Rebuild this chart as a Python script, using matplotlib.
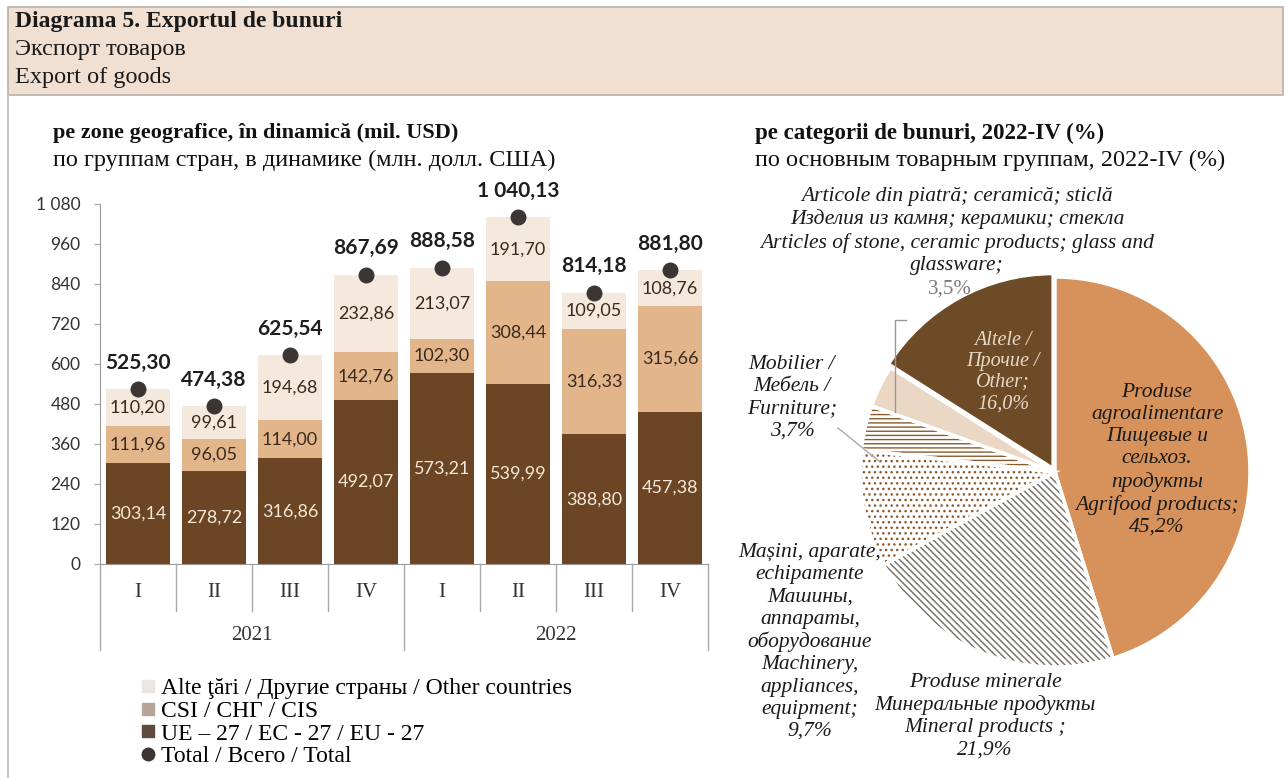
import matplotlib
matplotlib.use('Agg')
import matplotlib.pyplot as plt
import numpy as np
from matplotlib.patches import Rectangle
from matplotlib.lines import Line2D
from matplotlib.transforms import blended_transform_factory

plt.rcParams['font.family'] = ['Liberation Serif', 'DejaVu Serif']
plt.rcParams['hatch.linewidth'] = 1.0

# ---- data ----
quarters = ['I', 'II', 'III', 'IV', 'I', 'II', 'III', 'IV']
years = ['2021', '2022']
eu = [303.14, 278.72, 316.86, 492.07, 573.21, 539.99, 388.80, 457.38]
cis = [111.96, 96.05, 114.00, 142.76, 102.30, 308.44, 316.33, 315.66]
other = [110.20, 99.61, 194.68, 232.86, 213.07, 191.70, 109.05, 108.76]
total = [525.30, 474.38, 625.54, 867.69, 888.58, 1040.13, 814.18, 881.80]
yticks = [0, 120, 240, 360, 480, 600, 720, 840, 960, 1080]

pie_labels = ['Produse\nagroalimentare\nПищевые и\nсельхоз.\nпродукты\nAgrifood products;\n45,2%',
              'Produse minerale\nМинеральные продукты\nMineral products ;\n21,9%',
              'Mașini, aparate,\nechipamente\nМашины,\nаппараты,\nоборудование\nMachinery,\nappliances,\nequipment;\n9,7%',
              'Mobilier /\nМебель /\nFurniture;\n3,7%',
              'Articole din piatră; ceramică; sticlă\nИзделия из камня; керамики; стекла\nArticles of stone, ceramic products; glass and\nglassware;',
              'Altele /\nПрочие /\nOther;\n16,0%']
pie_shares = [45.2, 21.9, 9.7, 3.7, 3.5, 16.0]

C_EU = '#6b4524'
C_CIS = '#e3b58a'
C_OTH = '#f5e9de'
C_TOT = '#3b3634'

W, H = 1286, 778
fig = plt.figure(figsize=(W / 100, H / 100), dpi=100)

def fx(px):
    return px / W

def fy(py):
    return 1 - py / H

# header band
fig.patches.append(Rectangle((fx(8), fy(95)), fx(1275), 88 / H, transform=fig.transFigure,
                             facecolor='#f1e0d2', edgecolor='#b8b0a8', lw=1.2, zorder=0))
fig.add_artist(Line2D([fx(8), fx(8)], [fy(95), 0], color='#c8c8c8', lw=1.5))
fig.text(fx(15), fy(21), 'Diagrama 5. Exportul de bunuri', fontsize=17, fontweight='bold',
         va='center', color='#1a1a1a')
fig.text(fx(15), fy(50), 'Экспорт товаров', fontsize=17.5, va='center', color='#1a1a1a')
fig.text(fx(15), fy(77), 'Export of goods', fontsize=17.5, va='center', color='#1a1a1a')

fig.text(fx(53), fy(133), 'pe zone geografice, în dinamică (mil. USD)', fontsize=16,
         fontweight='bold', va='center', color='#111')
fig.text(fx(53), fy(160), 'по группам стран, в динамике (млн. долл. США)', fontsize=17.5,
         va='center', color='#111')
fig.text(fx(755), fy(133), 'pe categorii de bunuri, 2022-IV (%)', fontsize=16.5,
         fontweight='bold', va='center', color='#111')
fig.text(fx(755), fy(160), 'по основным товарным группам, 2022-IV (%)', fontsize=17.5,
         va='center', color='#111')

# ---- bar chart ----
ax = fig.add_axes([fx(100), fy(564), fx(608), 360 / H])
x = np.arange(len(quarters))
eu_a, cis_a, oth_a = np.array(eu), np.array(cis), np.array(other)
bw = 0.84
ax.bar(x, eu_a, bw, color=C_EU, zorder=2)
ax.bar(x, cis_a, bw, bottom=eu_a, color=C_CIS, zorder=2)
ax.bar(x, oth_a, bw, bottom=eu_a + cis_a, color=C_OTH, zorder=2)
ax.scatter(x, total, s=110, color=C_TOT, zorder=4)

for i in range(len(x)):
    ax.text(x[i], eu_a[i] / 2, f'{eu[i]:.2f}'.replace('.', ','), ha='center', va='center',
            fontsize=13, color='#f4e8da', family='Lato', zorder=5)
    ax.text(x[i], eu_a[i] + cis_a[i] / 2, f'{cis[i]:.2f}'.replace('.', ','), ha='center',
            va='center', fontsize=13, color='#3a2a1e', family='Lato', zorder=5)
    ax.text(x[i], eu_a[i] + cis_a[i] + oth_a[i] / 2, f'{other[i]:.2f}'.replace('.', ','),
            ha='center', va='center', fontsize=13, color='#3a2a1e', family='Lato', zorder=5)
    lab = f'{total[i]:,.2f}'.replace(',', ' ').replace('.', ',')
    ax.annotate(lab, (x[i], total[i]), xytext=(0, 19), textcoords='offset points',
                ha='center', va='center', fontsize=15, fontweight='bold', color='#1e1e1e',
                family='Lato', zorder=5, annotation_clip=False)

ax.set_xlim(-0.5, len(x) - 0.5)
ax.set_ylim(0, 1080)
ax.set_yticks(yticks)
ax.set_yticklabels([f'{v:,}'.replace(',', ' ') for v in yticks], family='Lato', fontsize=12.5,
                   color='#333')
ax.tick_params(axis='y', length=4, color='#aaaaaa', pad=10)
ax.set_xticks([])
for s in ['top', 'right']:
    ax.spines[s].set_visible(False)
ax.spines['left'].set_color('#999999')
ax.spines['bottom'].set_color('#999999')

tr = blended_transform_factory(ax.transData, ax.transAxes)
for i in range(len(x) + 1):
    low = -0.24 if i % 4 == 0 else -0.13
    ax.plot([i - 0.5, i - 0.5], [0, low], transform=tr, color='#aaaaaa', lw=1, clip_on=False)
for i, q in enumerate(quarters):
    ax.text(i, -0.078, q, transform=tr, ha='center', va='center', fontsize=15, color='#333')
for k, yr in enumerate(years):
    ax.text(4 * k + 1.5, -0.2, yr, transform=tr, ha='center', va='center', fontsize=15,
            color='#333')

handles = [Line2D([], [], marker='s', ls='', color='#ece6e2', markersize=9),
           Line2D([], [], marker='s', ls='', color='#b5a497', markersize=9),
           Line2D([], [], marker='s', ls='', color='#5e4a3e', markersize=9),
           Line2D([], [], marker='o', ls='', color=C_TOT, markersize=9)]
labels = ['Alte ţări / Другие страны / Other countries', 'CSI / СНГ / CIS',
          'UE – 27 / ЕС - 27 / EU - 27', 'Total / Всего / Total']
fig.legend(handles, labels, loc='upper left', bbox_to_anchor=(fx(130), fy(666)), frameon=False,
           fontsize=17, handlelength=0.55, handletextpad=0.25, labelspacing=0.05, borderpad=0)

# ---- pie chart ----
R = 195
cx, cy = 1055, 472
ax2 = fig.add_axes([fx(cx - R), fy(cy + R), 2 * R / W, 2 * R / H])
face = ['#d6925a', 'white', 'white', 'white', '#ead8c4', '#6e4b27']
hatches = [None, '\\\\\\\\\\', '...', '----', None, None]
hcol = [None, '#756b62', '#8a5a2c', '#8a5a2c', None, None]
expl = [0, 0, 0, 0, 0, 0.02]
wedges, _ = ax2.pie(pie_shares, startangle=90, counterclock=False, colors=face, radius=1,
                    explode=expl)
for w, h, c in zip(wedges, hatches, hcol):
    if h:
        w.set_hatch(h)
        w.set_edgecolor(c)
        w.set_linewidth(0)
outline, _ = ax2.pie(pie_shares, startangle=90, counterclock=False, radius=1, explode=expl,
                     wedgeprops=dict(facecolor='none', edgecolor='white', linewidth=2.5))
ax2.set_xlim(-1, 1)
ax2.set_ylim(-1, 1)
ax2.set_aspect('equal')

def d(px, py):
    return ((px - cx) / R, (cy - py) / R)

kw = dict(ha='center', va='center', style='italic', fontsize=15.5, linespacing=1.22,
          color='#1a1a1a')
ax2.text(*d(1157, 460), pie_labels[0], **kw)
ax2.text(*d(985, 716), pie_labels[1], **kw)
ax2.text(*d(810, 642), pie_labels[2], **kw)
ax2.text(*d(792, 398), pie_labels[3], **kw)
ax2.text(*d(957, 231), pie_labels[4], **kw)
ax2.text(*d(950, 289), '3,5%', ha='center', va='center', fontsize=15, color='#7a7a7a')
kw2 = dict(kw)
kw2['color'] = '#e6d9c8'
kw2['fontsize'] = 14.5
kw2['linespacing'] = 1.15
ax2.text(*d(1003, 372), pie_labels[5], **kw2)

p1, p2, p3 = d(906, 320), d(895, 320), d(895, 412)
ax2.plot([p1[0], p2[0], p3[0]], [p1[1], p2[1], p3[1]], color='#999999', lw=1, clip_on=False)
q1, q2 = d(838, 428), d(880, 462)
ax2.plot([q1[0], q2[0]], [q1[1], q2[1]], color='#aaaaaa', lw=1, clip_on=False)

fig.savefig('out.png', dpi=100)
